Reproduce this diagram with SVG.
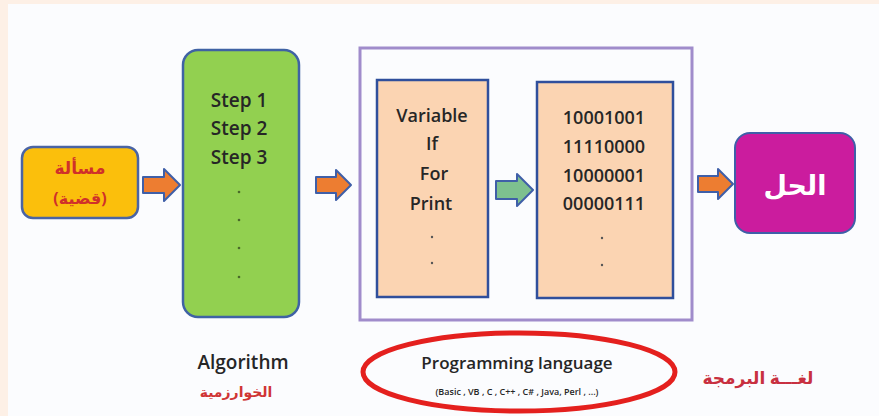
<svg xmlns="http://www.w3.org/2000/svg" width="879" height="416" viewBox="0 0 879 416">
<style>
.arrow{fill:#ED7D31;stroke:#3F5FA8;stroke-width:2;stroke-linejoin:round}
.garrow{fill:#7DC08F;stroke:#3F5FA8;stroke-width:2;stroke-linejoin:round}
.peach{fill:#FBD4B2;stroke:#2F4F9C;stroke-width:2.5}
.en{font-family:"Open Sans","Liberation Sans",sans-serif;fill:#262626;text-anchor:middle;font-weight:600}
.ar{font-family:"Noto Sans","DejaVu Sans",sans-serif;font-weight:bold;text-anchor:middle}
</style>
<rect width="879" height="416" fill="#FDF0E6"/>
<rect x="8" y="4" width="871" height="412" fill="#FBFCFE"/>
<g id="problem">
<rect x="22" y="147" width="116" height="71" rx="11" fill="#FBBF0C" stroke="#4A64A4" stroke-width="2.5"/>
<text class="ar" x="80" y="174" font-size="17" fill="#D0302A">مسألة</text>
<text class="ar" x="80" y="204" font-size="16" fill="#D0302A">(قضية)</text>
</g>
<g id="algorithm">
<rect x="183" y="50" width="116" height="267" rx="15" fill="#92D050" stroke="#3F62A4" stroke-width="2.5"/>
<text class="en" x="239" y="107" font-size="19">Step 1</text>
<text class="en" x="239" y="135" font-size="19">Step 2</text>
<text class="en" x="239" y="164" font-size="19">Step 3</text>
<g fill="#4a6a2a"><circle cx="239" cy="192" r="1.3"/><circle cx="239" cy="220" r="1.3"/><circle cx="239" cy="248" r="1.3"/><circle cx="239" cy="277" r="1.3"/></g>
</g>
<g id="language">
<rect x="360" y="48" width="332" height="272" fill="none" stroke="#A08CCB" stroke-width="3"/>
</g>
<g id="code">
<rect x="377" y="80" width="111" height="217" class="peach"/>
<text class="en" x="432" y="122" font-size="18">Variable</text>
<text class="en" x="432" y="150" font-size="18">If</text>
<text class="en" x="434" y="180" font-size="18">For</text>
<text class="en" x="431" y="210" font-size="18">Print</text>
<g fill="#555"><circle cx="432" cy="237" r="1.2"/><circle cx="432" cy="263" r="1.2"/></g>
</g>
<g id="machine">
<rect x="537" y="82" width="136" height="216" class="peach"/>
<text class="en" x="604" y="124" font-size="18">10001001</text>
<text class="en" x="604" y="153" font-size="18">11110000</text>
<text class="en" x="604" y="182" font-size="18">10000001</text>
<text class="en" x="604" y="210" font-size="18">00000111</text>
<g fill="#555"><circle cx="602" cy="238" r="1.2"/><circle cx="602" cy="265" r="1.2"/></g>
</g>
<g id="solution">
<rect x="735" y="133" width="120" height="100" rx="15" fill="#CB1C9E" stroke="#3F5FA8" stroke-width="2"/>
<text class="ar" x="795" y="195" font-size="27" fill="#FFFFFF">الحل</text>
</g>
<g id="connectors">
<path class="arrow" d="M143,177 H164 V169 L180,185 L164,201 V193 H143 Z"/>
<path class="arrow" d="M316,177 H336 V170 L351,185 L336,200 V193 H316 Z"/>
<path class="garrow" d="M496,181 H517 V174 L533,190 L517,206 V199 H496 Z"/>
<path class="arrow" d="M698,176 H718 V169 L733,184 L718,199 V192 H698 Z"/>
</g>
<g id="labels">
<text class="en" x="243" y="369" font-size="19" fill="#333" font-weight="500">Algorithm</text>
<text class="ar" x="236" y="397" font-size="14" fill="#D03535">الخوارزمية</text>
<ellipse cx="519" cy="372" rx="156" ry="39" fill="none" stroke="#E4201E" stroke-width="5"/>
<text class="en" x="517" y="369" font-size="17" font-weight="500">Programming language</text>
<text class="en" x="517" y="395" font-size="9" font-weight="500">(Basic , VB , C , C++ , C# , Java, Perl , ...)</text>
<text class="ar" x="758" y="384" font-size="17" fill="#C83040">لغـــة البرمجة</text>
</g>
</svg>
